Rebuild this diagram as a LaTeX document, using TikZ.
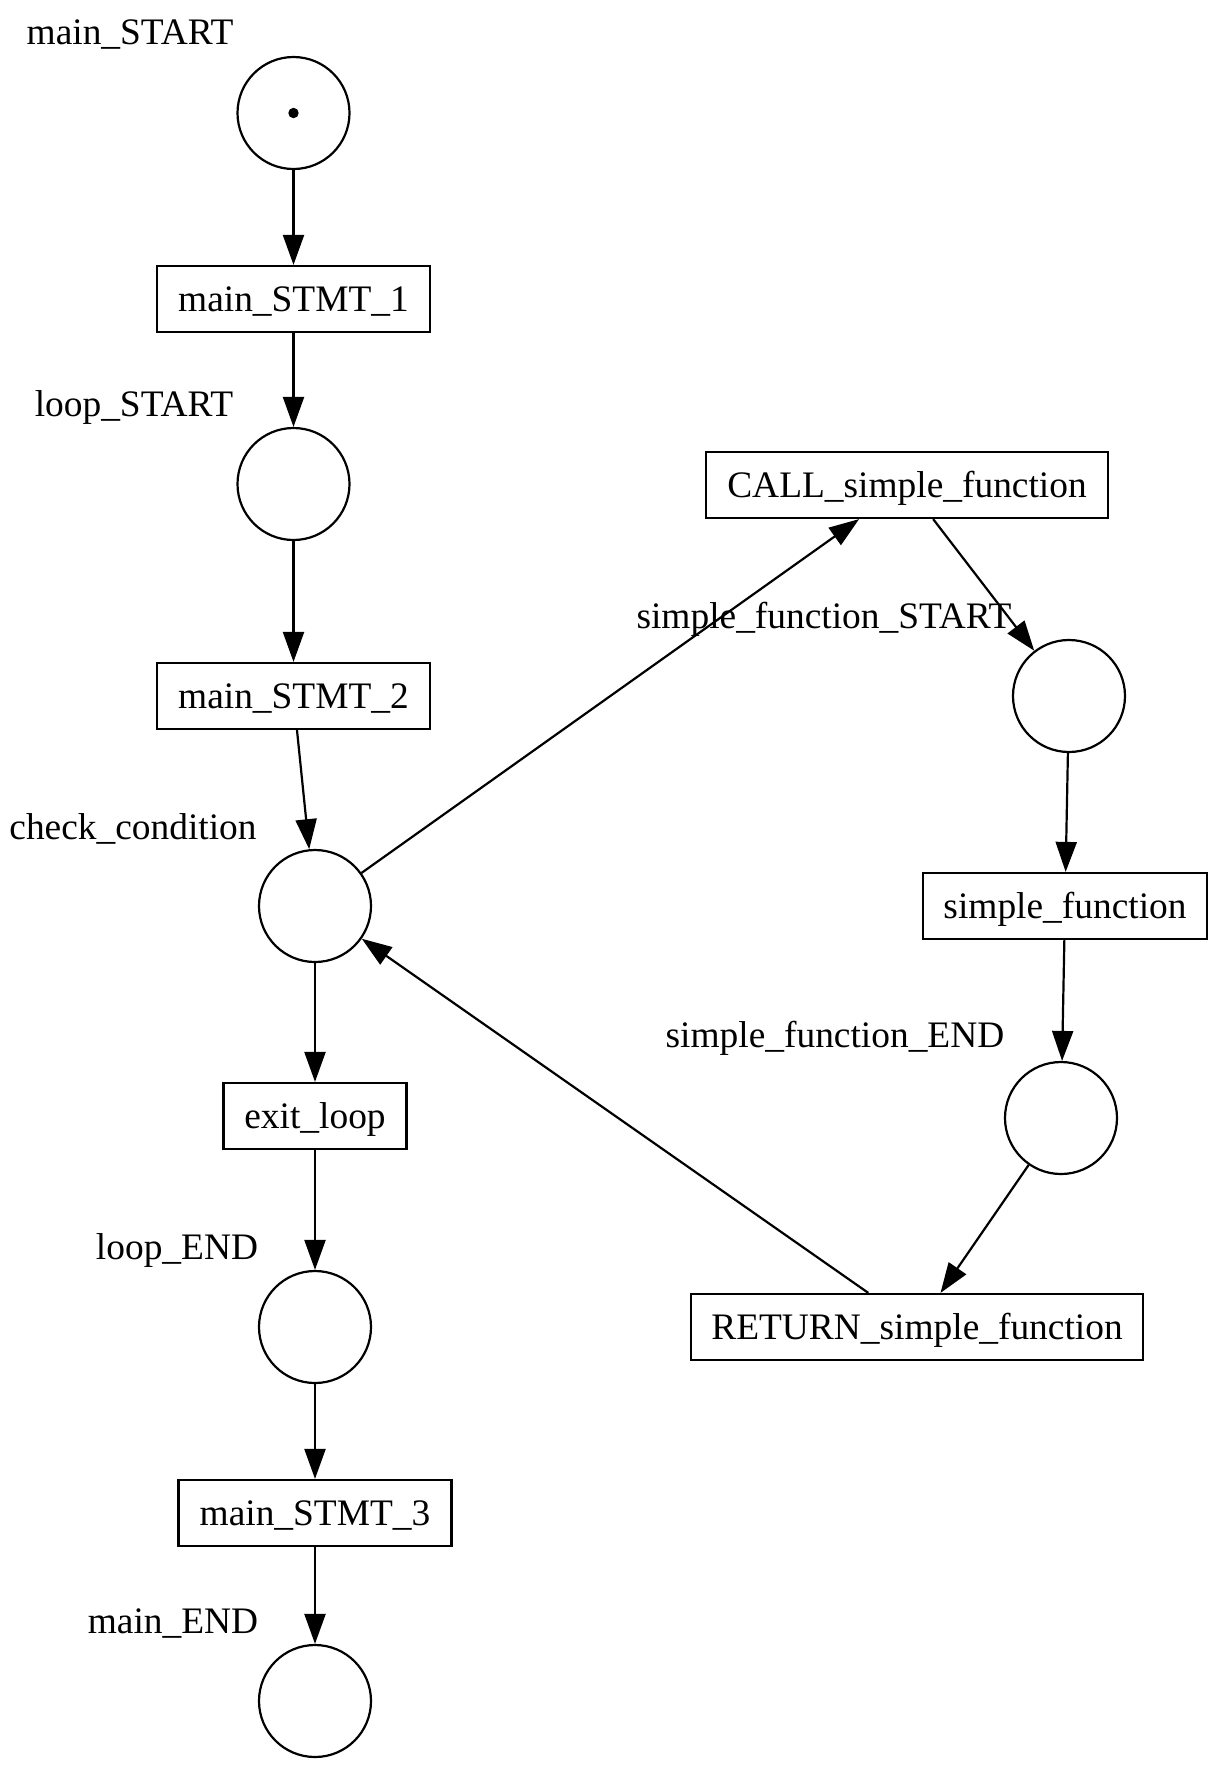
\documentclass[tikz,border=0pt]{standalone}
\usepackage{fontspec}
\setmainfont{Liberation Serif}
\usetikzlibrary{arrows.meta}
\begin{document}
\begin{tikzpicture}[x=0.5pt,y=-0.5pt,
  font=\fontsize{18.7}{22}\selectfont,
  place/.style={circle,draw,line width=1.1pt,minimum size=56pt,inner sep=0pt},
  trans/.style={rectangle,draw,line width=1.1pt,minimum height=33pt,inner sep=0pt,text height=12.5pt,text depth=0pt},
  lbl/.style={anchor=base,inner sep=0pt},
  arc/.style={line width=1.1pt,-{Triangle[length=15pt,width=10.5pt]}}]
\useasboundingbox (0,0) rectangle (1218,1768);
% places
\node[place] (mstart) at (293.5,113) {};
\fill (mstart.center) circle (2.6pt);
\node[place] (lstart) at (293.5,484) {};
\node[place] (check) at (315,906) {};
\node[place] (lend) at (315,1327) {};
\node[place] (mend) at (315,1701) {};
\node[place] (sfstart) at (1069,696) {};
\node[place] (sfend) at (1061,1118) {};
% transitions
\node[trans,minimum width=136.5pt] (s1) at (293.5,299) {main\_STMT\_1};
\node[trans,minimum width=136.5pt] (s2) at (293.5,696) {main\_STMT\_2};
\node[trans,minimum width=91.5pt] (exit) at (315,1116) {exit\_loop};
\node[trans,minimum width=136.5pt] (s3) at (315,1513) {main\_STMT\_3};
\node[trans,minimum width=201pt] (call) at (907,485) {CALL\_simple\_function};
\node[trans,minimum width=142pt] (sf) at (1065,906) {simple\_function};
\node[trans,minimum width=226pt] (ret) at (917,1327) {RETURN\_simple\_function};
% labels
\node[lbl] (lmstart) at (130,44) {main\_START};
\node[lbl] (llstart) at (134,416) {loop\_START};
\node[lbl] (lcheck) at (133,839) {check\_condition};
\node[lbl] (llend) at (177,1259) {loop\_END};
\node[lbl] (lmend) at (173,1633) {main\_END};
\node[lbl] (lsfstart) at (824,628) {simple\_function\_START};
\node[lbl] (lsfend) at (835,1047) {simple\_function\_END};
% arcs
\draw[arc] (mstart) -- (s1);
\draw[arc] (s1) -- (lstart);
\draw[arc] (lstart) -- (s2);
\draw[arc] (s2) -- (check);
\draw[arc] (check) -- (call);
\draw[arc] (call) -- (sfstart);
\draw[arc] (sfstart) -- (sf);
\draw[arc] (sf) -- (sfend);
\draw[arc] (sfend) -- (ret);
\draw[arc] (ret) -- (check);
\draw[arc] (check) -- (exit);
\draw[arc] (exit) -- (lend);
\draw[arc] (lend) -- (s3);
\draw[arc] (s3) -- (mend);
\end{tikzpicture}
\end{document}
